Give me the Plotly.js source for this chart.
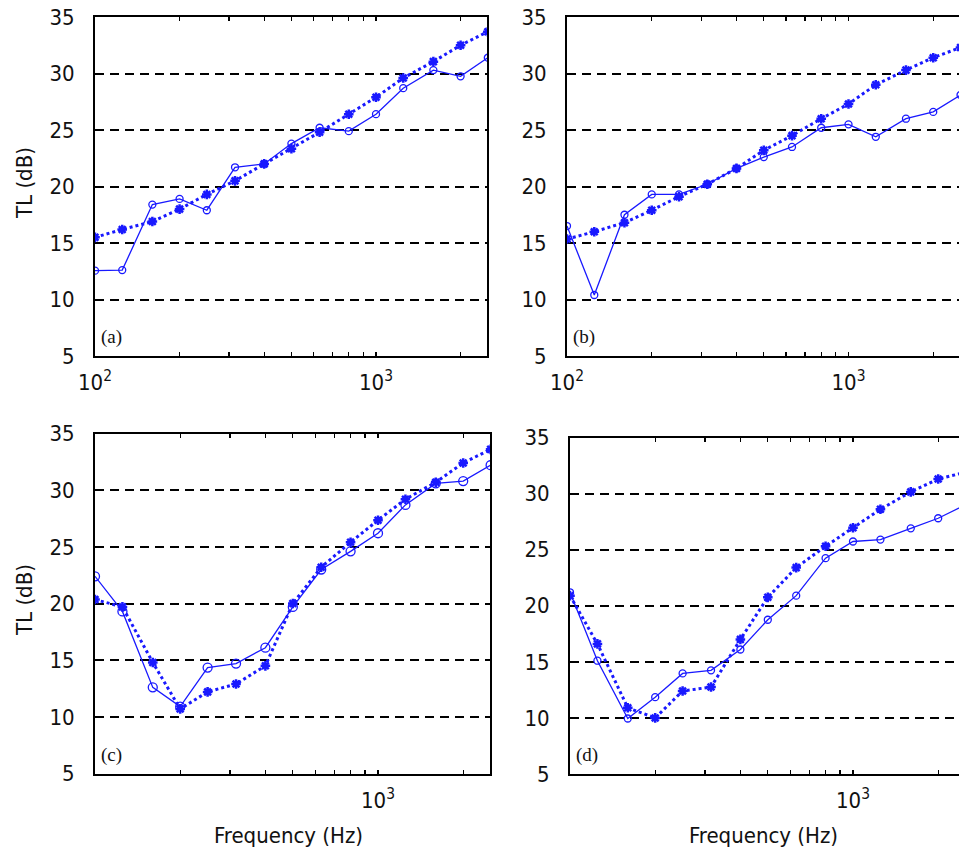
<!DOCTYPE html>
<html><head><meta charset="utf-8">
<script src="https://cdn.plot.ly/plotly-3.0.1.min.js"></script>
<style>html,body{margin:0;padding:0;background:#fff}</style>
</head><body><div id="chart" style="width:959px;height:851px"></div>
<script>
// One-third-octave band centre frequencies (Hz)
const freq = [100,125,160,200,250,315,400,500,630,800,1000,1250,1600,2000,2500];

// Panel (a)
const circlesA = [12.55,12.6,18.4,18.9,17.9,21.7,22.0,23.8,25.2,24.9,26.4,28.7,30.3,29.75,31.4];
const starsA   = [15.5,16.2,16.9,18.0,19.3,20.5,22.0,23.35,24.8,26.4,27.9,29.6,31.05,32.5,33.7];
// Panel (b)
const circlesB = [16.5,10.4,17.5,19.3,19.3,20.2,21.6,22.6,23.5,25.2,25.5,24.4,26.0,26.6,28.1];
const starsB   = [15.35,16.0,16.8,17.9,19.1,20.2,21.6,23.2,24.5,26.0,27.3,29.0,30.3,31.4,32.3];
// Panel (c)
const circlesC = [22.4,19.3,12.6,10.9,14.35,14.7,16.1,19.7,23.0,24.6,26.2,28.7,30.6,30.8,32.2];
const starsC   = [20.35,19.7,14.8,10.7,12.2,12.9,14.5,20.0,23.2,25.4,27.35,29.2,30.7,32.4,33.6];
// Panel (d)
const circlesD = [21.2,15.1,9.95,11.85,13.97,14.24,16.1,18.75,20.9,24.24,25.73,25.9,26.9,27.8,29.0];
const starsD   = [20.9,16.6,10.9,10.0,12.4,12.75,17.0,20.75,23.4,25.3,26.95,28.6,30.15,31.3,31.9];

// Axis ticks
const xMajorTop = [100, 1000];
const xMajorTopText = ['10<sup>2</sup>', '10<sup>3</sup>'];
const xMajorBottom = [1000];
const xMajorBottomText = ['10<sup>3</sup>'];
const xMinorVals = [200,300,400,500,600,700,800,900,2000];
const yTickVals = [5,10,15,20,25,30,35];
const panelLabels = ['(a)','(b)','(c)','(d)'];
const xTitle = 'Frequency (Hz)';
const yTitle = 'TL (dB)';

const W = 959, H = 851;
const BLUE = 'rgb(25,25,255)';
const SANS = 'Liberation Sans Narrow, DejaVu Sans Condensed, Arial Narrow, sans-serif';
const SERIF = 'Liberation Serif, Times New Roman, serif';

// panel geometry in pixels
const panels = [
  {l:95,  r:487, t:17,    b:356,   dec:281,   cs:7, tv:xMajorTop,    tt:xMajorTopText,    mirrorY:true,  circ:circlesA, star:starsA},
  {l:567, r:959, t:17,    b:356,   dec:281.5, cs:7, tv:xMajorTop,    tt:xMajorTopText,    mirrorY:false, circ:circlesB, star:starsB},
  {l:95,  r:490, t:433.5, b:773.5, dec:283,   cs:9, tv:xMajorBottom, tt:xMajorBottomText, mirrorY:true,  circ:circlesC, star:starsC},
  {l:570, r:959, t:437.5, b:774,   dec:283,   cs:7, tv:xMajorBottom, tt:xMajorBottomText, mirrorY:false, circ:circlesD, star:starsD}
];

const traces = [];
const layout = {
  width: W, height: H,
  margin: {l:0, r:0, t:0, b:0},
  paper_bgcolor: '#fff', plot_bgcolor: '#fff',
  showlegend: false,
  font: {family: SANS, size: 22, color: '#111'},
  annotations: []
};

panels.forEach((p, i) => {
  const n = i === 0 ? '' : String(i + 1);
  const xa = 'xaxis' + n, ya = 'yaxis' + n;
  const xr = 'x' + n, yr = 'y' + n;
  traces.push({
    x: freq, y: p.star, xaxis: xr, yaxis: yr, type: 'scatter', mode: 'lines+markers',
    line: {color: BLUE, width: 3, dash: '3px,3px'},
    marker: {symbol: 'asterisk-open', size: 8, color: BLUE, line: {color: BLUE, width: 2.5}}
  });
  traces.push({
    x: freq, y: p.circ, xaxis: xr, yaxis: yr, type: 'scatter', mode: 'lines+markers',
    line: {color: BLUE, width: 1.3},
    marker: {symbol: 'circle-open', size: p.cs, color: BLUE, line: {color: BLUE, width: 1.3}}
  });
  layout[xa] = {
    type: 'log', domain: [p.l / W, p.r / W], anchor: yr,
    range: [2, 2 + (p.r - p.l) / p.dec],
    tickmode: 'array', tickvals: p.tv, ticktext: p.tt,
    ticks: 'inside', ticklen: 4, tickwidth: 1.2, tickcolor: '#000',
    minor: {tickmode: 'array', tickvals: xMinorVals, ticks: 'inside', ticklen: 4, tickwidth: 1.2, tickcolor: '#000', showgrid: false},
    showline: true, linecolor: '#000', linewidth: 2, mirror: 'ticks',
    showgrid: false, zeroline: false,
    tickfont: {family: SANS, size: 22, color: '#111'},
    ticklabelstandoff: 6
  };
  layout[ya] = {
    domain: [(H - p.b) / H, (H - p.t) / H], anchor: xr,
    range: [5, 35], tickmode: 'array', tickvals: yTickVals,
    ticks: '', showline: true, linecolor: '#000', linewidth: 2, mirror: p.mirrorY,
    showgrid: true, gridcolor: '#000', gridwidth: 2, griddash: '9px,6px',
    zeroline: false,
    tickfont: {family: SANS, size: 22, color: '#111'},
    ticklabelstandoff: 14
  };
  layout.annotations.push({
    xref: 'paper', yref: 'paper', x: (p.l + 4) / W, y: (H - (p.b - 19)) / H,
    xanchor: 'left', yanchor: 'middle', showarrow: false,
    text: panelLabels[i], font: {family: SERIF, size: 19, color: '#111'}
  });
});

// axis titles
[[183, 25], [600, 24]].forEach(([cy, cx]) => {
  layout.annotations.push({
    xref: 'paper', yref: 'paper', x: cx / W, y: (H - cy) / H,
    xanchor: 'center', yanchor: 'middle', showarrow: false, textangle: -90,
    text: yTitle, font: {family: SANS, size: 22, color: '#111'}
  });
});
[288, 763].forEach(cx => {
  layout.annotations.push({
    xref: 'paper', yref: 'paper', x: cx / W, y: (H - 835) / H,
    xanchor: 'center', yanchor: 'middle', showarrow: false,
    text: xTitle, font: {family: SANS, size: 22, color: '#111'}
  });
});

Plotly.newPlot('chart', traces, layout, {staticPlot: true, displayModeBar: false});
</script>
</body></html>
